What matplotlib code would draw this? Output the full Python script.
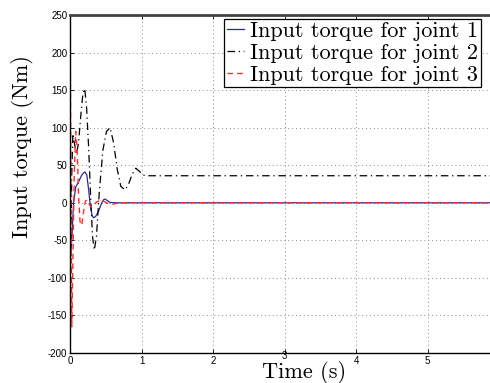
import matplotlib
matplotlib.use("Agg")
import matplotlib.pyplot as plt
import matplotlib.transforms as mtransforms

# ---- data ----
t1 = [0.0, 0.012, 0.03, 0.05, 0.08, 0.12, 0.16, 0.19, 0.21, 0.235, 0.26, 0.285, 0.31, 0.33, 0.36, 0.40, 0.44, 0.47, 0.49, 0.52, 0.56, 0.62, 0.70, 6.0]
v1 = [-40, -70, -40, 0, 21, 28, 36, 40, 41, 37, 18, -5, -17, -20, -18, -11, -1, 4, 5, 3, 0.5, 0, 0, 0]

t2 = [0.0, 0.012, 0.025, 0.04, 0.06, 0.09, 0.12, 0.15, 0.18, 0.205, 0.23, 0.26, 0.29, 0.315, 0.34, 0.37, 0.41, 0.46, 0.51, 0.56, 0.61, 0.66, 0.71, 0.77, 0.82, 0.87, 0.92, 0.97, 1.02, 1.07, 6.0]
v2 = [-180, -60, 40, 92, 80, 65, 80, 115, 145, 152, 130, 75, 5, -45, -63, -45, 15, 70, 95, 100, 80, 45, 22, 17, 25, 38, 46, 42, 37, 36, 36]

t3 = [0.0, 0.012, 0.025, 0.04, 0.06, 0.08, 0.10, 0.12, 0.14, 0.165, 0.19, 0.215, 0.24, 0.27, 0.30, 0.33, 0.37, 0.42, 0.47, 0.53, 0.60, 0.68, 0.78, 6.0]
v3 = [250, 40, -165, -80, 40, 95, 70, 10, -25, -30, -12, 2, 4, -2, -6, -4, 1, 3, 2, -1, -2, 0, 0, 0]

labels = ["Input torque for joint 1", "Input torque for joint 2", "Input torque for joint 3"]
yticks = [-200, -150, -100, -50, 0, 50, 100, 150, 200, 250]
xticks = [0, 1, 2, 3, 4, 5]

plt.rcParams['axes.unicode_minus'] = False

fig = plt.figure(figsize=(4.9, 3.83), dpi=100)
ax = fig.add_axes([70 / 490, 1 - 353 / 383, 429 / 490, 338 / 383])

ax.plot(t1, v1, color='#2a2aa0', lw=0.9, ls='-', label=labels[0])
ax.plot(t2, v2, color='black', lw=0.9, ls=(0, (6, 3, 1, 3)), label=labels[1])
ax.plot(t3, v3, color='#ff2a2a', lw=1.0, ls=(0, (4, 3)), label=labels[2])

ax.set_xlim(0, 6)
ax.set_ylim(-200, 250)
ax.set_xticks(xticks)
ax.set_yticks(yticks)
ax.tick_params(direction='in', top=True, right=True, length=3, width=0.6,
               labelsize=7, pad=2)
for lab in ax.get_xticklabels() + ax.get_yticklabels():
    lab.set_fontfamily('Liberation Sans')

# the "3" tick label sits higher in the reference, just above the x label
tick3 = ax.xaxis.get_major_ticks()[3].label1
tick3.set_transform(tick3.get_transform() +
                    mtransforms.ScaledTranslation(0, 5 / 100, fig.dpi_scale_trans))

ax.grid(True, ls=(0, (1, 3)), color='#888888', lw=0.7)
for s in ['left', 'bottom']:
    ax.spines[s].set_linewidth(1.0)
ax.spines['top'].set_linewidth(2.0)
ax.spines['top'].set_color('#444444')

ax.set_xlabel('Time (s)', fontfamily='cmr10', fontsize=16)
ax.xaxis.set_label_coords((304 - 70) / 429, -0.025)
ax.set_ylabel('Input torque (Nm)', fontfamily='cmr10', fontsize=16)
ax.yaxis.set_label_coords((34 - 70) / 429, (353 - 147) / 338)

leg = ax.legend(loc='upper left', bbox_to_anchor=((224 - 70) / 429, (353 - 19) / 338),
                prop={'family': 'cmr10', 'size': 16},
                fancybox=False, edgecolor='black', framealpha=1,
                handlelength=0.8, handletextpad=0.25, borderpad=0.12,
                labelspacing=0.1, borderaxespad=0.0)
leg.get_frame().set_linewidth(0.9)

fig.savefig('out.png', dpi=100)
